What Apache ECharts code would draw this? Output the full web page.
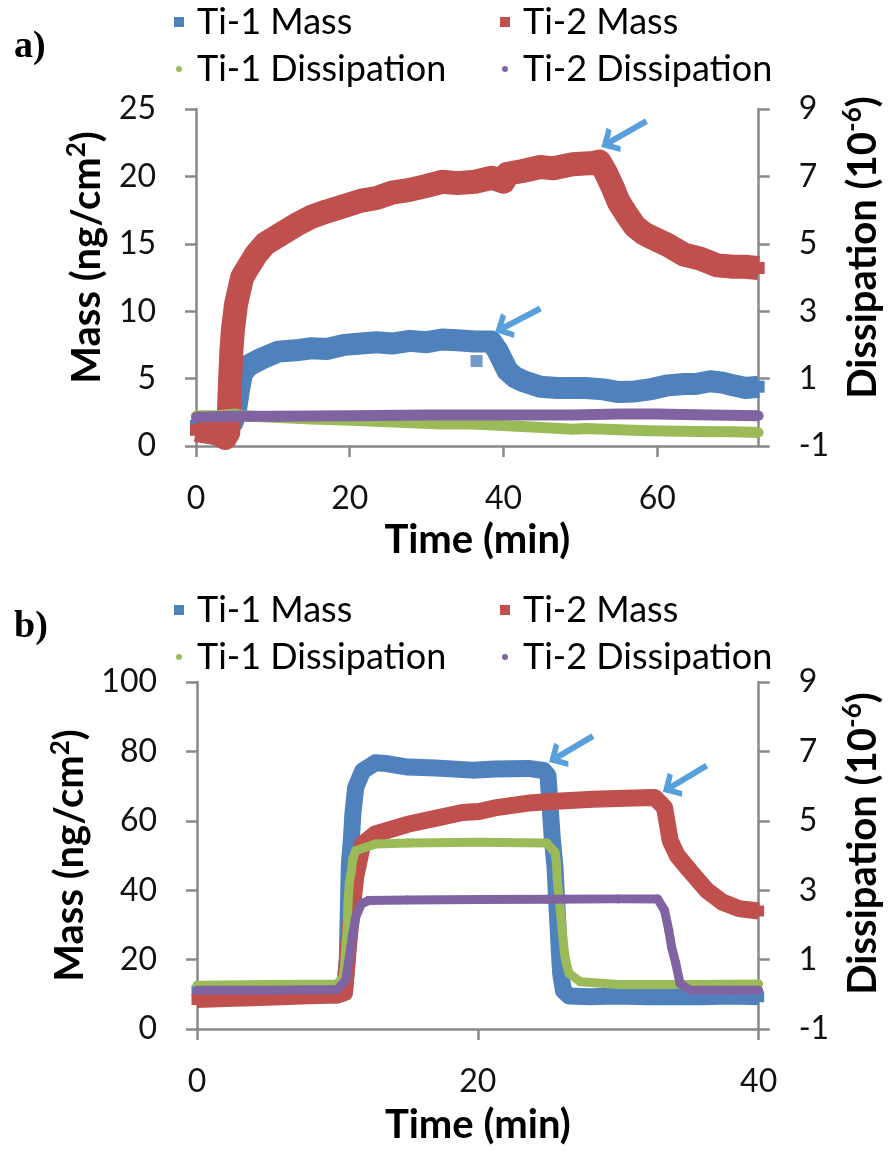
<!DOCTYPE html>
<html><head><meta charset="utf-8">
<script src="https://cdn.jsdelivr.net/npm/echarts@6/dist/echarts.min.js"></script>
<style>html,body{margin:0;padding:0;background:#fff}#c{width:891px;height:1153px}</style>
</head><body><div id="c"></div>
<script>
// ---------- data ----------
const seriesNames = ['Ti-1 Mass', 'Ti-2 Mass', 'Ti-1 Dissipation', 'Ti-2 Dissipation'];
const panelLabels = ['a)', 'b)'];
const axisTitleX = 'Time (min)';
const massTicksA = [0, 5, 10, 15, 20, 25];
const massTicksB = [0, 20, 40, 60, 80, 100];
const dissTicks = [-1, 1, 3, 5, 7, 9];
const timeTicksA = [0, 20, 40, 60];
const timeTicksB = [0, 20, 40];
const timeMaxA = 73.2;

// panel a  [time (min), value]
const aTi1Mass = [[0,1.5],[2,1.5],[4,1.4],[4.8,1.8],[5.2,2.7],[5.6,4.2],[6,5.4],[6.9,6.0],[8.6,6.5],[10.7,7.0],[13,7.1],[15,7.25],[17,7.2],[19.3,7.5],[21.5,7.6],[23.5,7.7],[25.5,7.6],[27.8,7.8],[30,7.7],[32,7.9],[34,7.85],[36.3,7.75],[38.4,7.75],[39.2,7.1],[40,6.2],[40.5,5.6],[41.5,5.1],[42.6,4.8],[44.8,4.4],[47,4.3],[49,4.3],[50.7,4.3],[53,4.2],[55,4.0],[57.1,4.05],[59,4.2],[61.4,4.5],[63.5,4.6],[65,4.6],[66.9,4.8],[68.5,4.7],[69.9,4.5],[71.5,4.3],[73.2,4.4]];
const aTi1MassOutlier = [[36.5,6.3]];
const aTi2Mass = [[0,1.2],[1,1.1],[2,1.0],[3,0.9],[3.8,0.6],[4.2,1.0],[4.4,4.4],[4.6,7.0],[4.8,8.6],[5.2,10.5],[6,12.5],[6.5,13.0],[7.8,14.2],[9,15.0],[10.7,15.6],[13,16.4],[15,17.0],[17,17.4],[19.3,17.8],[21.5,18.2],[23.5,18.4],[25.5,18.8],[27.8,19.0],[30,19.3],[32,19.6],[34,19.5],[36.3,19.6],[38.5,19.9],[40,19.6],[40.5,20.2],[42.5,20.4],[44.8,20.7],[46.5,20.6],[49,20.9],[51.6,21.0],[52.5,21.1],[53.3,20.3],[54.2,19.2],[55,18.1],[56,17.2],[57.1,16.3],[58.2,15.8],[59.2,15.5],[61.4,14.9],[63.5,14.2],[65.6,13.9],[67.8,13.4],[69.9,13.3],[71.5,13.3],[73.2,13.2]];
const aTi1Diss = [[0,-0.1],[3,-0.1],[5,-0.05],[6,-0.1],[10,-0.15],[15,-0.2],[19.3,-0.23],[25,-0.28],[32,-0.35],[36,-0.35],[40.5,-0.4],[45,-0.45],[49,-0.5],[50.7,-0.48],[55,-0.52],[59,-0.55],[65,-0.57],[70,-0.58],[73.2,-0.6]];
const aTi2Diss = [[0,-0.15],[5,-0.12],[10,-0.12],[20,-0.1],[30,-0.08],[40,-0.08],[49,-0.08],[55,-0.05],[60,-0.05],[65,-0.07],[73.2,-0.1]];
const aArrows = [[[44.8,10.2],[39.9,8.74]], [[58.6,24.1],[53.7,22.5]]];

// panel b
const bTi1Mass = [[0,11],[2,10.5],[4,10],[6,10],[8,10],[10,9.8],[10.5,10.5],[10.7,20],[10.85,47.6],[11,55],[11.1,62],[11.3,69.6],[11.8,74.4],[12.7,76.7],[13.5,76.5],[15,75.5],[17,75.2],[19.6,74.6],[21.2,74.9],[23.6,75.1],[24.7,74.5],[25.0,73],[25.2,61],[25.3,55],[25.5,46.6],[25.6,38],[25.7,30.4],[25.8,22.7],[25.9,16],[26.1,11],[26.5,9.5],[28,9.3],[30,9.5],[32,9.3],[34,9.3],[36,9.3],[38,9.5],[40,9.3]];
const bTi2Mass = [[0,8.5],[2,8.8],[4,9],[6,9.3],[8,9.6],[10,9.8],[10.5,10.5],[10.85,26.5],[11.1,36],[11.3,43.7],[11.8,53.3],[12.7,56.2],[15,59],[17.3,61],[18.9,62.4],[20.1,62.7],[21.2,63.7],[23.6,65.1],[25.9,65.7],[28.2,66.2],[30.5,66.5],[32.6,66.7],[33.3,63.8],[33.7,54.3],[34.2,50],[35.1,45.6],[36.3,40],[37.4,36.6],[38.6,34.7],[40,34]];
const bTi1Diss = [[0,0.26],[5,0.28],[10,0.3],[10.4,0.5],[10.5,0.79],[10.7,1.94],[10.75,2.6],[10.85,3.23],[11,3.56],[11.1,3.9],[11.3,4.14],[12.7,4.33],[15,4.36],[20,4.38],[24.9,4.36],[25.5,4.09],[25.6,3.76],[25.65,3.33],[25.75,2.9],[25.9,2.32],[26.0,1.89],[26.1,1.46],[26.2,1.12],[26.3,0.89],[26.5,0.6],[27.3,0.36],[30,0.28],[35,0.28],[40,0.3]];
const bTi2Diss = [[0,0.12],[5,0.12],[10,0.14],[10.6,0.41],[10.85,1.08],[11.1,1.75],[11.3,2.22],[11.7,2.6],[12.2,2.7],[15,2.72],[20,2.73],[25,2.74],[30,2.75],[32.8,2.75],[33.3,2.42],[33.6,1.84],[33.8,1.36],[34.1,0.89],[34.4,0.31],[35.1,0.12],[38,0.12],[40,0.12]];
const bArrows = [[[28.2,84.4],[25.6,78.2]], [[36.3,75.9],[33.7,69.6]]];

// ---------- style ----------
const FONT = 'Lato';
const colors = ['#4F81BD', '#C0504D', '#9BBB59', '#8064A2'];
const arrowColor = '#58A0DC';
const axisGray = '#898989';
const chevron = 'path://M10,0 L20,9.5 L16.5,11.5 L10,5.6 L3.5,11.5 L0,9.5 Z';

const chart = echarts.init(document.getElementById('c'), null, {renderer: 'canvas'});

function yAxisCfg(grid, pos, min, max, ticks, nameRich, nameGap, padShift) {
  return {
    type: 'value', gridIndex: grid, position: pos, min, max,
    axisLine: {show: true, lineStyle: {color: axisGray, width: 2.5}},
    axisTick: {show: true, length: 11, lineStyle: {color: axisGray, width: 2.5}, customValues: ticks},
    axisLabel: {customValues: ticks, margin: 40, color: '#111', fontFamily: FONT, fontSize: 32},
    splitLine: {show: false},
    name: nameRich, nameLocation: 'middle', nameGap, nameRotate: 90,
    nameTextStyle: {
      fontFamily: FONT, fontWeight: 'bold', color: '#000', padding: padShift,
      rich: {
        t: {fontFamily: FONT, fontWeight: 'bold', fontSize: 40, lineHeight: 46, color: '#000'},
        s: {fontFamily: FONT, fontWeight: 'bold', fontSize: 26, lineHeight: 26, verticalAlign: 'top', color: '#000'}
      }
    }
  };
}
function xAxisCfg(grid, max, ticks, nameGap) {
  return {
    type: 'value', gridIndex: grid, min: 0, max,
    axisLine: {show: true, onZero: false, lineStyle: {color: axisGray, width: 2.5}},
    axisTick: {show: true, length: 11, lineStyle: {color: axisGray, width: 2.5}, customValues: ticks},
    axisLabel: {customValues: ticks, margin: 37, color: '#111', fontFamily: FONT, fontSize: 32},
    splitLine: {show: false},
    name: axisTitleX, nameLocation: 'middle', nameGap,
    nameTextStyle: {fontFamily: FONT, fontWeight: 'bold', fontSize: 40, color: '#000'}
  };
}
function ser(name, data, xi, yi, color, width, symbol, symSize, z) {
  return {
    type: 'line', name, data, xAxisIndex: xi, yAxisIndex: yi,
    symbol, symbolSize: symSize, showSymbol: true, showAllSymbol: true,
    itemStyle: {color}, lineStyle: {color, width, join: 'round'},
    z, animation: false, silent: true, clip: true, emphasis: {disabled: true}
  };
}
function arrowMark(pairs) {
  return {
    silent: true, animation: false,
    symbol: ['none', chevron], symbolSize: [28, 17],
    label: {show: false},
    emphasis: {disabled: true},
    lineStyle: {color: arrowColor, width: 6, type: 'solid', opacity: 1},
    data: pairs.map(p => [{coord: p[0], lineStyle: {width: 6, color: arrowColor}}, {coord: p[1]}])
  };
}
function leg(name, icon, size, iconLeft, textLeft, centerY) {
  return {
    data: [{name, icon}], left: iconLeft, top: centerY - 21, padding: 0,
    itemWidth: size, itemHeight: size, selectedMode: false,
    textStyle: {fontFamily: FONT, fontSize: 36, color: '#000', padding: [0, 0, 0, textLeft - (iconLeft + size + 5)]}
  };
}

const sA0 = ser(seriesNames[0], aTi1Mass, 0, 0, colors[0], 22, 'rect', 12, 2);
sA0.markLine = arrowMark(aArrows);
const sB0 = ser(seriesNames[0], bTi1Mass, 1, 2, colors[0], 17, 'rect', 11, 2);
sB0.markLine = arrowMark(bArrows);

const option = {
  backgroundColor: '#fff',
  animation: false,
  grid: [
    {left: 196, top: 109, width: 573, height: 337},
    {left: 197, top: 682, width: 577, height: 347}
  ],
  xAxis: [xAxisCfg(0, timeMaxA, timeTicksA, 74), xAxisCfg(1, 40, timeTicksB, 76)],
  yAxis: [
    yAxisCfg(0, 'left', 0, 25, massTicksA, '{t|Mass (ng/cm}{s|2}{t|)}', 86, [0, 0, 0, 40]),
    yAxisCfg(0, 'right', -1, 9, dissTicks, '{t|Dissipation (10}{s|-6}{t|)}', 78, [0, 0, 0, 60]),
    yAxisCfg(1, 'left', 0, 100, massTicksB, '{t|Mass (ng/cm}{s|2}{t|)}', 86, 0),
    yAxisCfg(1, 'right', -1, 9, dissTicks, '{t|Dissipation (10}{s|-6}{t|)}', 72, [0, 0, 0, 24])
  ],
  legend: [
    leg(seriesNames[0], 'rect', 10, 174, 197, 25),
    leg(seriesNames[1], 'rect', 10, 500, 523, 25),
    leg(seriesNames[2], 'circle', 6, 176, 197, 72),
    leg(seriesNames[3], 'circle', 6, 502, 523, 72),
    leg(seriesNames[0], 'rect', 10, 174, 197, 613),
    leg(seriesNames[1], 'rect', 10, 500, 523, 613),
    leg(seriesNames[2], 'circle', 6, 176, 197, 660),
    leg(seriesNames[3], 'circle', 6, 502, 523, 660)
  ],
  graphic: [
    {type: 'text', left: 14, top: 28, style: {text: panelLabels[0], font: 'bold 38px "Liberation Serif"', fill: '#000'}},
    {type: 'text', left: 14, top: 608, style: {text: panelLabels[1], font: 'bold 38px "Liberation Serif"', fill: '#000'}}
  ],
  series: [
    sA0,
    {type: 'scatter', name: seriesNames[0], data: aTi1MassOutlier, xAxisIndex: 0, yAxisIndex: 0, symbol: 'rect', symbolSize: 12, itemStyle: {color: colors[0]}, z: 2, silent: true},
    ser(seriesNames[1], aTi2Mass, 0, 0, colors[1], 24, 'rect', 12, 3),
    ser(seriesNames[2], aTi1Diss, 0, 1, colors[2], 11, 'circle', 10, 4),
    ser(seriesNames[3], aTi2Diss, 0, 1, colors[3], 11, 'circle', 10, 5),
    sB0,
    ser(seriesNames[1], bTi2Mass, 1, 2, colors[1], 17, 'rect', 11, 3),
    ser(seriesNames[2], bTi1Diss, 1, 3, colors[2], 9, 'circle', 9, 4),
    ser(seriesNames[3], bTi2Diss, 1, 3, colors[3], 9, 'circle', 9, 5)
  ]
};
chart.setOption(option);
</script>
</body></html>
